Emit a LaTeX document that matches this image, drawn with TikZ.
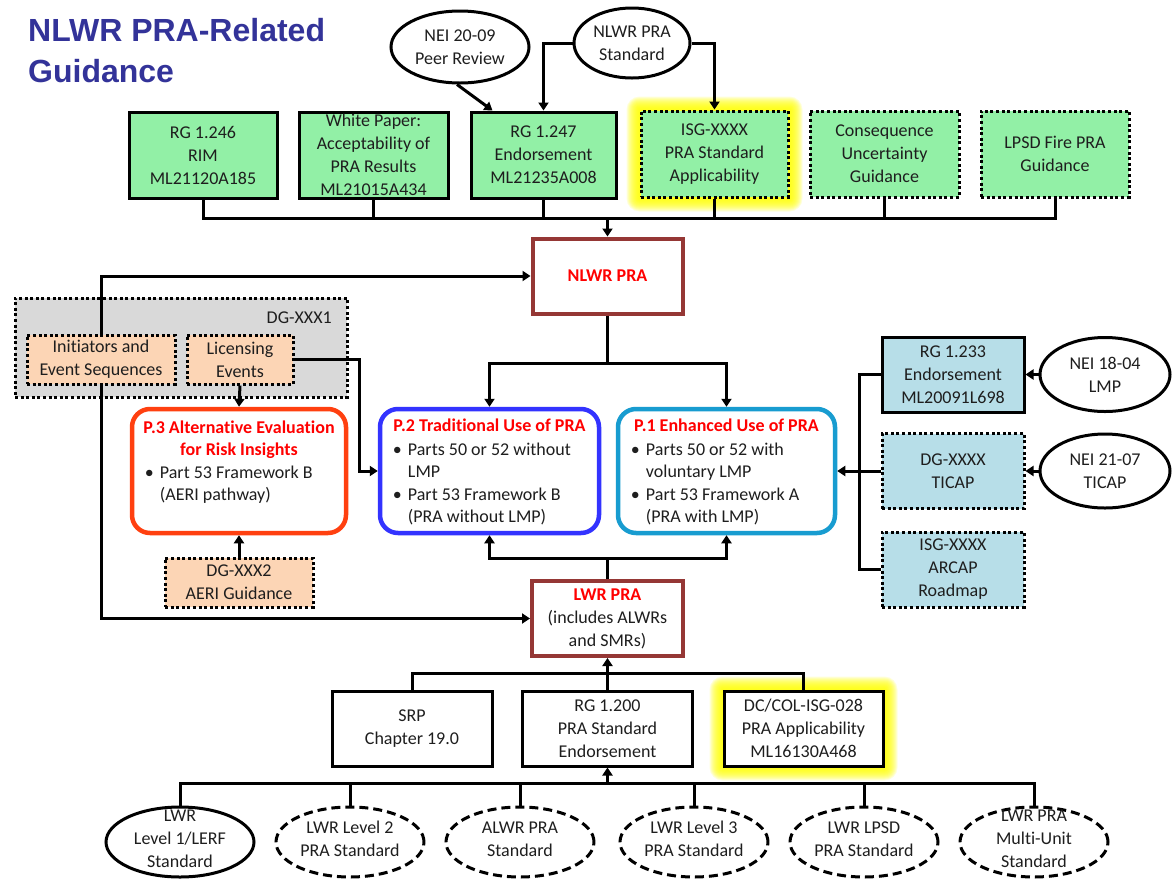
\documentclass[tikz,border=0pt]{standalone}
\usepackage{fontspec}
\setmainfont{Carlito}[Ligatures=NoCommon]
\newfontfamily\headfont{Liberation Sans}
\usetikzlibrary{arrows.meta,shapes.geometric,backgrounds}

\definecolor{boxgreen}{RGB}{146,240,166}
\definecolor{boxblue}{RGB}{183,222,232}
\definecolor{boxpeach}{RGB}{252,213,181}
\definecolor{regiongray}{RGB}{217,217,217}
\definecolor{prabrown}{RGB}{149,55,53}
\definecolor{pthree}{RGB}{255,64,16}
\definecolor{ptwo}{RGB}{51,51,255}
\definecolor{pone}{RGB}{24,156,208}
\definecolor{headblue}{RGB}{51,51,153}
\definecolor{glowcol}{RGB}{255,255,0}
\definecolor{bodytext}{RGB}{30,30,30}

\begin{document}
\begin{tikzpicture}[x=1pt,y=-1pt,
  every node/.style={font=\fontsize{18}{23}\selectfont, inner sep=0pt, align=center, text=bodytext},
  titletext/.style={font=\headfont\bfseries\fontsize{32}{38}\selectfont, text=headblue, anchor=base west},
  solidbox/.style={rectangle, draw=black, line width=3pt},
  dotborder/.style={dash pattern=on 3pt off 2.6pt},
  gbox/.style={solidbox, fill=boxgreen, minimum width=148pt, minimum height=86pt},
  bbox/.style={solidbox, fill=boxblue, minimum width=142pt, minimum height=75pt},
  peachbox/.style={solidbox, dotborder, fill=boxpeach, minimum height=49pt},
  wbox/.style={solidbox, fill=white, minimum height=75pt},
  brownbox/.style={rectangle, draw=prabrown, line width=4pt, fill=white, minimum width=150pt, minimum height=75pt},
  pbox/.style={rectangle, rounded corners=18pt, line width=4.5pt, fill=white, minimum height=124pt},
  ptitle/.style={font=\fontsize{18}{22}\selectfont\bfseries, text=red, anchor=north},
  pbody/.style={font=\fontsize{18}{22.3}\selectfont, align=left, anchor=north west},
  ellnode/.style={ellipse, draw=black, line width=3pt, fill=white},
  stdell/.style={ellnode, minimum width=148pt, minimum height=70pt},
  dashell/.style={dash pattern=on 9pt off 5pt},
  link/.style={draw=black, line width=3pt},
  arr/.style={link, -{Triangle[length=8pt,width=10pt]}}
]
\useasboundingbox (0,0) rectangle (1176,879);

% heading
\node[titletext] (title1) at (28,41) {NLWR PRA-Related};
\node[titletext] (title2) at (28,82) {Guidance};

% top row of guidance documents
\node[gbox] (rg1246) at (203,155) {RG 1.246\\RIM\\ML21120A185};
\node[gbox, minimum width=149pt] (whitepaper) at (373.5,155) {White Paper:\\Acceptability of\\PRA Results\\ML21015A434};
\node[gbox, minimum width=145pt] (rg1247) at (543.5,155) {RG 1.247\\Endorsement\\ML21235A008};
\node[gbox, dotborder, minimum width=147pt] (isg) at (714.5,154) {ISG-XXXX\\PRA Standard\\Applicability};
\node[gbox, dotborder, minimum width=149pt] (consequence) at (884.5,154) {Consequence\\Uncertainty\\Guidance};
\node[gbox, dotborder] (lpsdfire) at (1055,154) {LPSD Fire PRA\\Guidance};

% industry documents feeding the top row
\node[ellnode, minimum width=138pt, minimum height=72pt] (nei2009) at (460,47) {NEI 20-09\\Peer Review};
\node[ellnode, minimum width=116pt, minimum height=70pt] (nlwrstd) at (632,43) {NLWR PRA\\Standard};

% central PRA boxes
\node[brownbox, font=\fontsize{18}{23}\selectfont\bfseries, text=red] (nlwr) at (607.5,276) {NLWR PRA};
\node[brownbox, minimum width=151pt] (lwr) at (607.5,618.5) {\textcolor{red}{\bfseries LWR PRA}\\(includes ALWRs\\and SMRs)};

% DG-XXX1 group
\node[solidbox, dotborder, fill=regiongray, minimum width=332pt, minimum height=99pt] (dgone) at (181,347.5) {};
\node[anchor=base east] (dgonelabel) at (332,323) {DG-XXX1};
\node[peachbox, minimum width=148pt] (initiators) at (101,359.5) {Initiators and\\Event Sequences};
\node[peachbox, minimum width=106pt] (licensing) at (240,359.5) {Licensing\\Events};
\node[peachbox, minimum width=148pt] (dgtwo) at (239,582.5) {DG-XXX2\\AERI Guidance};

% PRA pathways
\node[pbox, draw=pthree, minimum width=214pt] (p3) at (239,471) {};
\node[pbox, draw=ptwo, minimum width=219pt] (p2) at (489.5,471) {};
\node[pbox, draw=pone, minimum width=217pt] (p1) at (726.5,471) {};
\node[ptitle] (p3title) at ([yshift=-14pt]p3.north) {P.3 Alternative Evaluation\\for Risk Insights};
\node[ptitle] (p2title) at ([yshift=-12pt]p2.north) {P.2 Traditional Use of PRA};
\node[ptitle] (p1title) at ([yshift=-12pt]p1.north) {P.1 Enhanced Use of PRA};
\node[pbody] (p3body) at ([xshift=15pt,yshift=-59pt]p3.north west)
  {\makebox[15pt][l]{\textbullet}Part 53 Framework B\\\hspace*{15pt}(AERI pathway)};
\node[pbody] (p2body) at ([xshift=15pt,yshift=-36pt]p2.north west)
  {\makebox[15pt][l]{\textbullet}Parts 50 or 52 without\\\hspace*{15pt}LMP\\\makebox[15pt][l]{\textbullet}Part 53 Framework B\\\hspace*{15pt}(PRA without LMP)};
\node[pbody] (p1body) at ([xshift=15pt,yshift=-36pt]p1.north west)
  {\makebox[15pt][l]{\textbullet}Parts 50 or 52 with\\\hspace*{15pt}voluntary LMP\\\makebox[15pt][l]{\textbullet}Part 53 Framework A\\\hspace*{15pt}(PRA with LMP)};

% LMP / TICAP / ARCAP guidance
\node[bbox] (rg1233) at (953,374.5) {RG 1.233\\Endorsement\\ML20091L698};
\node[bbox, dotborder] (ticap) at (953,471) {DG-XXXX\\TICAP};
\node[bbox, dotborder] (arcap) at (953,569.5) {ISG-XXXX\\ARCAP\\Roadmap};
\node[ellnode, minimum width=130pt, minimum height=74pt] (nei1804) at (1105,374.5) {NEI 18-04\\LMP};
\node[ellnode, minimum width=130pt, minimum height=74pt] (nei2107) at (1105,471) {NEI 21-07\\TICAP};

% LWR guidance
\node[wbox, minimum width=160pt] (srp) at (412,728.5) {SRP\\Chapter 19.0};
\node[wbox, minimum width=170pt] (rg1200) at (607.5,728.5) {RG 1.200\\PRA Standard\\Endorsement};
\node[wbox, minimum width=159pt] (dccol) at (803.5,728.5) {DC/COL-ISG-028\\PRA Applicability\\ML16130A468};

% LWR consensus standards
\node[stdell, label={[yshift=3pt]center:LWR\\Level 1/LERF\\Standard}] (std1) at (180,842) {};
\node[stdell, dashell, label={[yshift=3pt]center:LWR Level 2\\PRA Standard}] (std2) at (350,842) {};
\node[stdell, dashell, label={[yshift=3pt]center:ALWR PRA\\Standard}] (std3) at (520,842) {};
\node[stdell, dashell, label={[yshift=3pt]center:LWR Level 3\\PRA Standard}] (std4) at (694,842) {};
\node[stdell, dashell, label={[yshift=3pt]center:LWR LPSD\\PRA Standard}] (std5) at (864,842) {};
\node[stdell, dashell, label={[yshift=3pt]center:LWR PRA\\Multi-Unit\\Standard}] (std6) at (1034,842) {};

% junction points of the bus lines
\coordinate (topbus) at (607.5,218);
\coordinate (midtop) at (607.5,363);
\coordinate (midbot) at (607.5,558);
\coordinate (rbus) at (859,471);
\coordinate (lwrbus) at (607.5,673);
\coordinate (stdbus) at (607.5,783);

% top row into NLWR PRA
\draw[link] (rg1246.south) -- (rg1246.south |- topbus) -- (lpsdfire.south |- topbus) -- (lpsdfire.south);
\foreach \n in {whitepaper,rg1247,isg,consequence}
  \draw[link] (\n.south) -- (\n.south |- topbus);
\draw[arr] (topbus) -- (nlwr.north);
\draw[arr] ([xshift=-3pt]nei2009.south) -- ([xshift=-51pt]rg1247.north);
\draw[arr] (nlwrstd.west) -| (rg1247.north);
\draw[arr] (nlwrstd.east) -| (isg.north);

% DG-XXX1 links
\draw[arr] (initiators.north) |- (nlwr.west);
\draw[arr] (initiators.south) |- (lwr.west);
\draw[arr] (licensing.east) -| ([xshift=-18pt]p2.west) -- (p2.west);
\draw[arr] (licensing.south) -- (p3.north);
\draw[arr] (dgtwo.north) -- (p3.south);

% NLWR PRA and LWR PRA into pathways
\draw[link] (nlwr.south) -- (midtop);
\draw[arr] (midtop) -| (p2.north);
\draw[arr] (midtop) -| (p1.north);
\draw[link] (lwr.north) -- (midbot);
\draw[arr] (midbot) -| (p2.south);
\draw[arr] (midbot) -| (p1.south);

% right-hand guidance into P.1
\draw[link] (rg1233.west) -- (rg1233.west -| rbus) -- (arcap.west -| rbus) -- (arcap.west);
\draw[arr] (ticap.west) -- (p1.east);
\draw[arr] (nei1804.west) -- (rg1233.east);
\draw[arr] (nei2107.west) -- (ticap.east);

% LWR guidance into LWR PRA
\draw[link] (srp.north) -- (srp.north |- lwrbus) -- (dccol.north |- lwrbus) -- (dccol.north);
\draw[arr] (rg1200.north) -- (lwr.south);

% standards into RG 1.200
\draw[link] (std1.north) -- (std1.north |- stdbus) -- (std6.north |- stdbus) -- (std6.north);
\foreach \n in {std2,std3,std4,std5}
  \draw[link] (\n.north) -- (\n.north |- stdbus);
\draw[arr] (stdbus) -- (rg1200.south);

% page background and yellow highlights
\begin{scope}[on background layer]
  \fill[white] (0,0) rectangle (1176,879);
  \foreach \g in {1,...,13} {
    \fill[glowcol, opacity=0.14, rounded corners=\g pt]
      ([shift={(-\g pt,\g pt)}]isg.north west) rectangle ([shift={(\g pt,-\g pt)}]isg.south east);
    \fill[glowcol, opacity=0.14, rounded corners=\g pt]
      ([shift={(-\g pt,\g pt)}]dccol.north west) rectangle ([shift={(\g pt,-\g pt)}]dccol.south east);
  }
\end{scope}
\end{tikzpicture}
\end{document}
